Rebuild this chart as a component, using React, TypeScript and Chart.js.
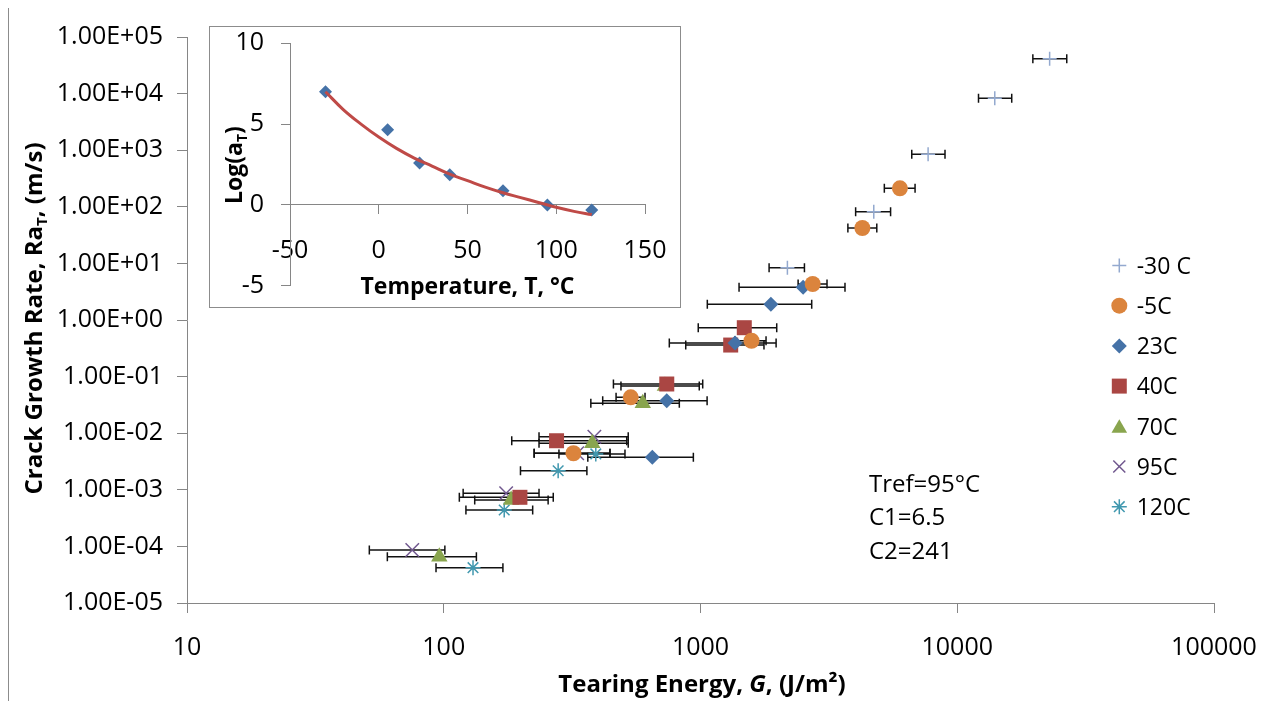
import React, { useEffect, useRef } from 'react';
import { Chart, registerables } from 'chart.js';
import { drawPoint } from 'chart.js/helpers';

Chart.register(...registerables);

// ---------------- DATA ----------------
// Tearing energy G (J/m^2), crack growth rate R*aT (m/s), error-bar low/high of G
const m30_G = [22900, 14000, 7700, 4730, 2180];
const m30_R = [41400, 8260, 847, 81.9, 8.4];
const m30_Glo = [19700, 12100, 6650, 4020, 1850];
const m30_Ghi = [26700, 16300, 8960, 5500, 2540];

const m5_G = [5980, 4270, 2735, 1580, 535, 320];
const m5_R = [212, 42.2, 4.33, 0.43, 0.0431, 0.00442];
const m5_Glo = [5200, 3750, 2400, 1360, 469, 225];
const m5_Ghi = [6850, 4860, 3110, 1800, 608, 444];

const c23_G = [2510, 1880, 1363, 739, 649];
const c23_R = [3.79, 1.89, 0.393, 0.0375, 0.00375];
const c23_Glo = [1413, 1063, 756, 416, 364];
const c23_Ghi = [3654, 2711, 1970, 1061, 938];

const c40_G = [1481, 1311, 739, 275, 198];
const c40_R = [0.731, 0.361, 0.074, 0.00736, 0.000737];
const c40_Glo = [980, 876, 458, 184, 115];
const c40_Ghi = [1981, 1767, 1020, 516, 267];

const c70_G = [727, 596, 379, 183, 96.1];
const c70_R = [0.0682, 0.0337, 0.00664, 0.00066, 0.0000658];
const c70_Glo = [490, 374, 235, 132, 60.3];
const c70_Ghi = [989, 827, 523, 255, 134];

const c95_G = [386, 331, 175, 75.4];
const c95_R = [0.00867, 0.00442, 0.000867, 0.0000863];
const c95_Glo = [235, 225, 119, 51.3];
const c95_Ghi = [523, 444, 235, 101];

const c120_G = [391, 279, 172, 130];
const c120_R = [0.0043, 0.00217, 0.00044, 0.0000421];
const c120_Glo = [281, 199, 122, 93.3];
const c120_Ghi = [508, 361, 222, 170];

const seriesLabels = ['-30 C', '-5C', '23C', '40C', '70C', '95C', '120C'];

const xTicks = [10, 100, 1000, 10000, 100000];
const xTickLabels = ['10', '100', '1000', '10000', '100000'];
const yTicks = [1e-5, 1e-4, 1e-3, 1e-2, 1e-1, 1, 1e1, 1e2, 1e3, 1e4, 1e5];
const yTickLabels = [
  '1.00E-05', '1.00E-04', '1.00E-03', '1.00E-02', '1.00E-01', '1.00E+00',
  '1.00E+01', '1.00E+02', '1.00E+03', '1.00E+04', '1.00E+05',
];

// Inset: shift factor log(aT) vs temperature
const inset_T = [-30, 5, 23, 40, 70, 95, 120];
const inset_logaT = [7.0, 4.65, 2.6, 1.86, 0.87, 0.0, -0.31];
const fit_T = [-30, -20, -10, 0, 10, 20, 30, 40, 50, 60, 70, 80, 90, 100, 110, 120];
const fit_logaT = [7.0, 5.9, 5.0, 4.2, 3.5, 2.9, 2.4, 1.9, 1.5, 1.1, 0.75, 0.45, 0.15, -0.15, -0.4, -0.6];

const annotationLines = ['Tref=95°C', 'C1=6.5', 'C2=241'];

// ---------------- STYLE ----------------
const FONT = '"Open Sans", "DejaVu Sans", sans-serif';
const AXIS_GREY = '#868686';

type Series = {
  label: string; G: number[]; R: number[]; lo: number[]; hi: number[];
  color: string; style: string; radius: number; bw: number;
};

const SERIES: Series[] = [
  { label: seriesLabels[0], G: m30_G, R: m30_R, lo: m30_Glo, hi: m30_Ghi, color: '#93A9CF', style: 'cross', radius: 7, bw: 1.5 },
  { label: seriesLabels[1], G: m5_G, R: m5_R, lo: m5_Glo, hi: m5_Ghi, color: '#DB843D', style: 'circle', radius: 8, bw: 0 },
  { label: seriesLabels[2], G: c23_G, R: c23_R, lo: c23_Glo, hi: c23_Ghi, color: '#4572A7', style: 'rectRot', radius: 7.5, bw: 0 },
  { label: seriesLabels[3], G: c40_G, R: c40_R, lo: c40_Glo, hi: c40_Ghi, color: '#AA4643', style: 'rect', radius: 10.6, bw: 0 },
  { label: seriesLabels[4], G: c70_G, R: c70_R, lo: c70_Glo, hi: c70_Ghi, color: '#89A54E', style: 'triangle', radius: 9.5, bw: 0 },
  { label: seriesLabels[5], G: c95_G, R: c95_R, lo: c95_Glo, hi: c95_Ghi, color: '#71588F', style: 'crossRot', radius: 9.5, bw: 1.5 },
  { label: seriesLabels[6], G: c120_G, R: c120_R, lo: c120_Glo, hi: c120_Ghi, color: '#4198AF', style: 'star', radius: 7.5, bw: 1.5 },
];

type Run = { t: string; f: string; dy?: number };
function drawRuns(ctx: CanvasRenderingContext2D, runs: Run[], cx: number, baseline: number, rot = 0) {
  ctx.save();
  ctx.translate(cx, baseline);
  if (rot) ctx.rotate(rot);
  ctx.textBaseline = 'alphabetic';
  ctx.textAlign = 'left';
  ctx.fillStyle = '#000';
  let w = 0;
  for (const r of runs) { ctx.font = r.f; w += ctx.measureText(r.t).width; }
  let x = -w / 2;
  for (const r of runs) {
    ctx.font = r.f;
    ctx.fillText(r.t, x, r.dy || 0);
    x += ctx.measureText(r.t).width;
  }
  ctx.restore();
}

const zeroPad = (scale: any) => {
  scale.paddingLeft = 0;
  scale.paddingRight = 0;
  scale.paddingTop = 0;
  scale.paddingBottom = 0;
};

const errorBarPlugin = {
  id: 'errorBars',
  beforeDatasetsDraw(chart: any) {
    const { ctx, scales } = chart;
    const x = scales.x, y = scales.y;
    const cap = 4.5;
    ctx.save();
    ctx.strokeStyle = '#111';
    ctx.lineWidth = 1.5;
    SERIES.forEach((s) => {
      s.G.forEach((_g, i) => {
        const py = y.getPixelForValue(s.R[i]);
        const x1 = x.getPixelForValue(s.lo[i]);
        const x2 = x.getPixelForValue(s.hi[i]);
        ctx.beginPath();
        ctx.moveTo(x1, py); ctx.lineTo(x2, py);
        ctx.moveTo(x1, py - cap); ctx.lineTo(x1, py + cap);
        ctx.moveTo(x2, py - cap); ctx.lineTo(x2, py + cap);
        ctx.stroke();
      });
    });
    ctx.restore();
  },
};

const mainTextPlugin = {
  id: 'mainText',
  afterDraw(chart: any) {
    const ctx: CanvasRenderingContext2D = chart.ctx;
    const bold = `bold 24px ${FONT}`;
    // y-axis title (rotated)
    drawRuns(ctx, [
      { t: 'Crack Growth Rate, Ra', f: bold },
      { t: 'T', f: `bold 15px ${FONT}`, dy: 5 },
      { t: ', (m/s)', f: bold },
    ], 32.5, 310.5, -Math.PI / 2);
    // x-axis title
    drawRuns(ctx, [
      { t: 'Tearing Energy, ', f: bold },
      { t: 'G', f: `italic bold 24px ${FONT}` },
      { t: ', (J/m²)', f: bold },
    ], 693, 683.5);
    // annotation
    ctx.save();
    ctx.fillStyle = '#000';
    ctx.font = `24px ${FONT}`;
    ctx.textAlign = 'left';
    ctx.textBaseline = 'alphabetic';
    annotationLines.forEach((t, i) => ctx.fillText(t, 860, 483.6 + i * 33.5));
    ctx.restore();
    // legend
    ctx.save();
    SERIES.forEach((s, i) => {
      const cy = 257.5 + i * 40.2;
      ctx.fillStyle = s.color;
      ctx.strokeStyle = s.color;
      ctx.lineWidth = s.bw;
      const r = s.style === 'rect' ? 10.6 : s.style === 'triangle' ? 9 : s.style === 'crossRot' ? 8.5 : s.radius;
      drawPoint(ctx, { pointStyle: s.style as any, radius: r, rotation: 0, borderWidth: s.bw } as any, 1110.3, cy + (s.style === 'triangle' ? 2 : 0));
      ctx.fillStyle = '#000';
      ctx.font = `23px ${FONT}`;
      ctx.textAlign = 'left';
      ctx.textBaseline = 'alphabetic';
      ctx.fillText(s.label, 1127.7, cy + 8.2);
    });
    ctx.restore();
  },
};

const insetTextPlugin = {
  id: 'insetText',
  afterDraw(chart: any) {
    const ctx: CanvasRenderingContext2D = chart.ctx;
    const bold = `bold 23px ${FONT}`;
    drawRuns(ctx, [{ t: 'Temperature, T, °C', f: bold }], 257.5, 267.2);
    drawRuns(ctx, [
      { t: 'Log(a', f: bold },
      { t: 'T', f: `bold 14px ${FONT}`, dy: 5 },
      { t: ')', f: bold },
    ], 31.5, 138, -Math.PI / 2);
  },
};

if (typeof document !== 'undefined') {
  document.documentElement.style.overflow = 'hidden';
  if (document.body) document.body.style.overflow = 'hidden';
}

export default function App() {
  const mainRef = useRef<HTMLCanvasElement>(null);
  const insetRef = useRef<HTMLCanvasElement>(null);

  useEffect(() => {
    document.documentElement.style.overflow = 'hidden';
    document.body.style.overflow = 'hidden';
    if (!mainRef.current || !insetRef.current) return;
    const tickFont = { family: FONT, size: 25 };

    const main = new Chart(mainRef.current, {
      type: 'scatter',
      data: {
        datasets: SERIES.map((s) => ({
          label: s.label,
          data: s.G.map((g, i) => ({ x: g, y: s.R[i] })),
          pointStyle: s.style as any,
          pointRadius: s.radius,
          pointHoverRadius: s.radius,
          backgroundColor: s.color,
          borderColor: s.color,
          borderWidth: s.bw,
          pointBorderWidth: s.bw,
          showLine: false,
        })),
      },
      options: {
        animation: false,
        responsive: false,
        maintainAspectRatio: false,
        events: [],
        layout: { padding: { left: 0, top: 29, right: 55, bottom: 0 } },
        plugins: { legend: { display: false }, tooltip: { enabled: false } },
        scales: {
          x: {
            type: 'logarithmic',
            min: 10,
            max: 100000,
            afterBuildTicks: (scale: any) => { scale.ticks = xTicks.map((v) => ({ value: v })); },
            afterFit: (scale: any) => { scale.height = 103; zeroPad(scale); },
            grid: { display: true, drawOnChartArea: false, drawTicks: true, tickLength: 10, color: AXIS_GREY },
            border: { display: true, color: AXIS_GREY, width: 1 },
            ticks: {
              font: tickFont, color: '#000', padding: 20, maxRotation: 0, autoSkip: false,
              callback: (_v: any, i: number) => xTickLabels[i],
            },
          },
          y: {
            type: 'logarithmic',
            min: 1e-5,
            max: 1e5,
            afterBuildTicks: (scale: any) => { scale.ticks = yTicks.map((v) => ({ value: v })); },
            afterFit: (scale: any) => { scale.width = 178; zeroPad(scale); },
            grid: { display: true, drawOnChartArea: false, drawTicks: true, tickLength: 10, color: AXIS_GREY },
            border: { display: true, color: AXIS_GREY, width: 1 },
            ticks: {
              font: tickFont, color: '#000', padding: 14, autoSkip: false,
              callback: (_v: any, i: number) => yTickLabels[i],
            },
          },
        },
      } as any,
      plugins: [errorBarPlugin, mainTextPlugin],
    });

    const inset = new Chart(insetRef.current, {
      type: 'scatter',
      data: {
        datasets: [
          {
            label: 'WLF fit',
            data: fit_T.map((t, i) => ({ x: t, y: fit_logaT[i] })),
            showLine: true,
            borderColor: '#BF4A47',
            borderWidth: 3,
            pointRadius: 0,
            tension: 0.4,
            fill: false,
          },
          {
            label: 'log aT',
            data: inset_T.map((t, i) => ({ x: t, y: inset_logaT[i] })),
            pointStyle: 'rectRot',
            pointRadius: 6.5,
            pointHoverRadius: 6.5,
            backgroundColor: '#4572A7',
            borderColor: '#4572A7',
            borderWidth: 0,
            showLine: false,
          },
        ],
      },
      options: {
        animation: false,
        responsive: false,
        maintainAspectRatio: false,
        events: [],
        layout: { padding: { left: 0, top: 16.3, right: 35, bottom: 21.3 } },
        plugins: { legend: { display: false }, tooltip: { enabled: false } },
        scales: {
          x: {
            type: 'linear',
            min: -50,
            max: 150,
            position: { y: 0 },
            afterFit: (scale: any) => { zeroPad(scale); },
            grid: { display: true, drawOnChartArea: false, drawTicks: true, tickLength: 9, color: AXIS_GREY },
            border: { display: true, color: AXIS_GREY, width: 1 },
            ticks: { stepSize: 50, font: tickFont, color: '#000', padding: 22, maxRotation: 0, autoSkip: false },
          },
          y: {
            type: 'linear',
            min: -5,
            max: 10,
            afterFit: (scale: any) => { scale.width = 80; zeroPad(scale); },
            grid: { display: true, drawOnChartArea: false, drawTicks: true, tickLength: 9, color: AXIS_GREY },
            border: { display: true, color: AXIS_GREY, width: 1 },
            ticks: { stepSize: 5, font: tickFont, color: '#000', padding: 17 },
          },
        },
      } as any,
      plugins: [insetTextPlugin],
    });

    return () => {
      main.destroy();
      inset.destroy();
    };
  }, []);

  return (
    <div
      style={{
        position: 'relative',
        width: 1262,
        height: 700,
        marginTop: -1,
        border: '1px solid #8c8c8c',
        boxSizing: 'border-box',
        background: '#fff',
      }}
    >
      <canvas
        ref={mainRef}
        width={1260}
        height={698}
        style={{ position: 'absolute', left: 0, top: 0, width: 1260, height: 698 }}
      />
      <div
        style={{
          position: 'absolute',
          left: 200,
          top: 18,
          width: 472,
          height: 282,
          border: '1px solid #8c8c8c',
          boxSizing: 'border-box',
          background: '#fff',
        }}
      >
        <canvas ref={insetRef} width={470} height={280} style={{ display: 'block', width: 470, height: 280 }} />
      </div>
    </div>
  );
}
